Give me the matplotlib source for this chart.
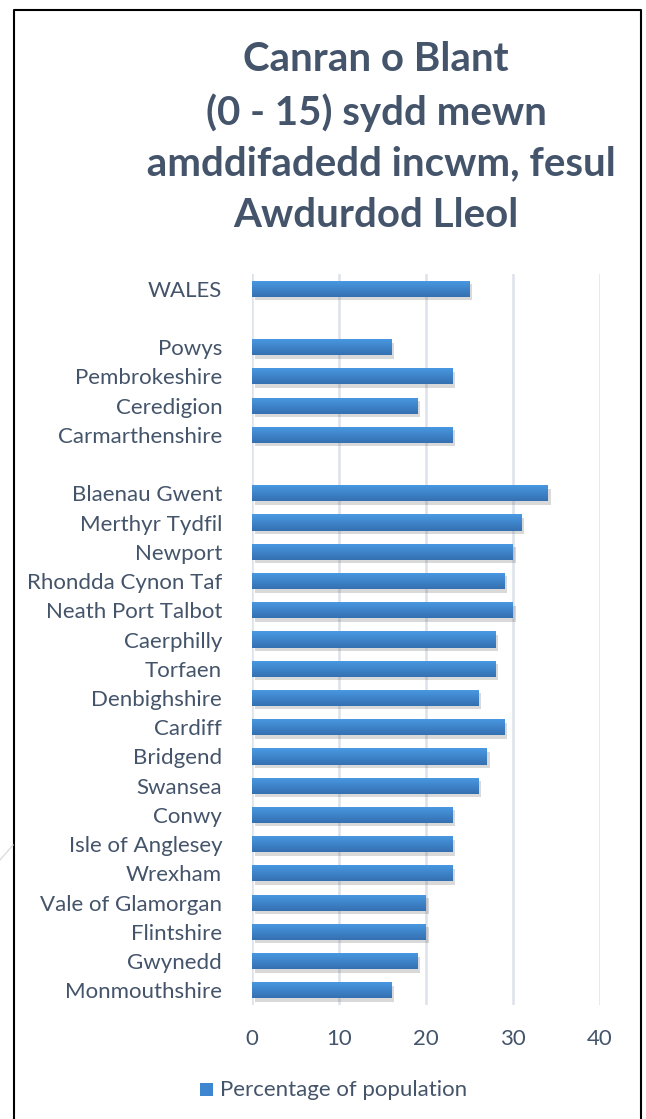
import matplotlib
matplotlib.use("Agg")
import matplotlib.pyplot as plt
import matplotlib.patheffects as pe
from matplotlib.lines import Line2D
from matplotlib.patches import Rectangle
from matplotlib.colors import LinearSegmentedColormap
import numpy as np

categories = ["WALES", "", "Powys", "Pembrokeshire", "Ceredigion", "Carmarthenshire", "",
              "Blaenau Gwent", "Merthyr Tydfil", "Newport", "Rhondda Cynon Taf",
              "Neath Port Talbot", "Caerphilly", "Torfaen", "Denbighshire", "Cardiff",
              "Bridgend", "Swansea", "Conwy", "Isle of Anglesey", "Wrexham",
              "Vale of Glamorgan", "Flintshire", "Gwynedd", "Monmouthshire"]
values = [25, np.nan, 16, 23, 19, 23, np.nan,
          34, 31, 30, 29, 30, 28, 28, 26, 29, 27, 26, 23, 23, 23, 20, 20, 19, 16]
xticks = [0, 10, 20, 30, 40]
series_name = "Percentage of population"
title = "Canran o Blant\n(0 - 15) sydd mewn\n amddifadedd incwm, fesul\nAwdurdod Lleol"

TXT = "#44546a"
FONT = ["Lato", "DejaVu Sans"]

W, H = 646, 1119
fig = plt.figure(figsize=(W / 100, H / 100), dpi=100)
fig.patch.set_facecolor("white")

ax = fig.add_axes([252 / W, 1 - 1005 / H, 348 / W, 731 / H])
y = np.arange(len(categories))
vals = np.array(values, dtype=float)
bars = ax.barh(y, np.nan_to_num(vals), height=0.55, color="#3f86d0", zorder=3,
               path_effects=[pe.SimplePatchShadow(offset=(2, -2.5), alpha=0.2, shadow_rgbFace="#444444"),
                             pe.Normal()])

grad = np.linspace(0, 1, 64).reshape(-1, 1)
cmap = LinearSegmentedColormap.from_list("g", ["#4a9ae3", "#3470b2"])
for b, v in zip(bars, vals):
    if np.isnan(v) or v == 0:
        continue
    x0, y0 = b.get_x(), b.get_y()
    w, h = b.get_width(), b.get_height()
    im = ax.imshow(grad, extent=(x0, x0 + w, y0 + h, y0), cmap=cmap, aspect="auto",
                   origin="upper", zorder=4, interpolation="bilinear")
    im.set_clip_path(b)

ax.set_xlim(0, 40)
ax.set_ylim(len(categories) - 0.5, -0.5)
ax.set_yticks(y)
ax.set_yticklabels(categories, fontsize=16, color=TXT, family=FONT)
ax.set_xticks(xticks)
ax.set_xticklabels([str(t) for t in xticks], fontsize=16, color=TXT, family=FONT)
ax.tick_params(axis="both", length=0)
ax.tick_params(axis="y", pad=21.5)
ax.tick_params(axis="x", pad=17)
ax.grid(axis="x", color="#dde1e9", linewidth=1.8, zorder=0)
ax.set_axisbelow(True)
for s in ax.spines.values():
    s.set_visible(False)

fig.text(376 / W, 1 - 41 / H, title, ha="center", va="top", fontsize=29, fontweight="bold",
         color=TXT, family=FONT, linespacing=1.47)

# legend
fig.patches.append(Rectangle((200 / W, 1 - 1096 / H), 13 / W, 13 / H, transform=fig.transFigure,
                             facecolor="#3f86d0", edgecolor="none"))
fig.text(220 / W, 1 - 1090 / H, series_name, ha="left", va="center", fontsize=16,
         color=TXT, family=FONT)

# frame
fig.lines.append(Line2D([14 / W, 14 / W, 641 / W, 641 / W], [0, 1 - 10 / H, 1 - 10 / H, 0],
                        transform=fig.transFigure, color="black", linewidth=1.5))
fig.lines.append(Line2D([0, 13 / W], [1 - 860 / H, 1 - 845 / H], transform=fig.transFigure,
                        color="#dddddd", linewidth=1))

fig.savefig("out.png", dpi=100)
